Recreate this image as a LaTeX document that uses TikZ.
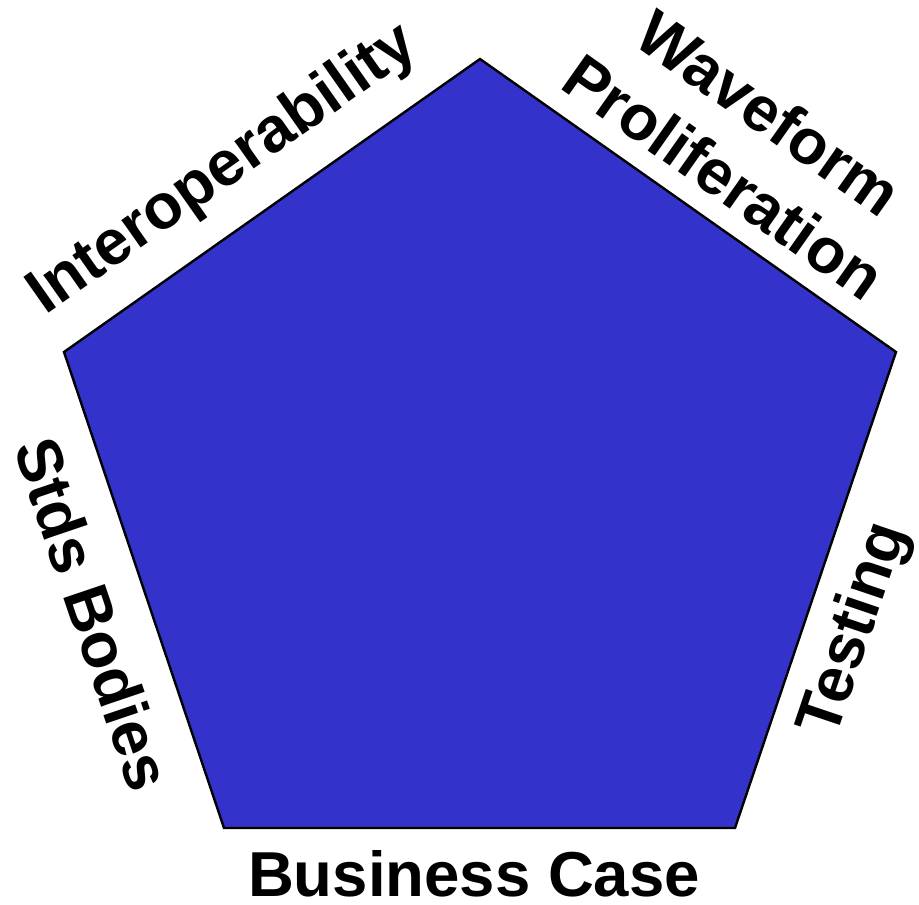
\documentclass[tikz,border=0pt]{standalone}
\usepackage{fontspec}
\setmainfont{Liberation Sans}
\definecolor{pentblue}{RGB}{51,51,204}
\begin{document}
\begin{tikzpicture}[x=1pt,y=-1pt,
  lbl/.style={font=\fontsize{63.5}{76}\selectfont\bfseries, inner sep=0pt, anchor=base},
  pent/.style={draw=black, line width=2.4pt, fill=pentblue, line join=miter}]
\useasboundingbox (0,0) rectangle (919,905);
\coordinate (T) at (480,59);
\coordinate (R) at (896,352);
\coordinate (BR) at (735,828);
\coordinate (BL) at (224,828);
\coordinate (L) at (64,352);
\draw[pent] (T) -- (R) -- (BR) -- (BL) -- (L) -- cycle;
\node[lbl, rotate=35.1] (interop) at (233,184) {Interoperability};
\node[lbl, rotate=-35.2] (wave) at (756,131) {Waveform};
\node[lbl, rotate=-35.2] (prolif) at (711,195) {Proliferation};
\node[lbl, rotate=-71.3] (stds) at (72,621) {Stds Bodies};
\node[lbl, rotate=71.3] (testing) at (871,635) {Testing};
\node[lbl] (business) at (474,896) {Business Case};
\end{tikzpicture}
\end{document}
